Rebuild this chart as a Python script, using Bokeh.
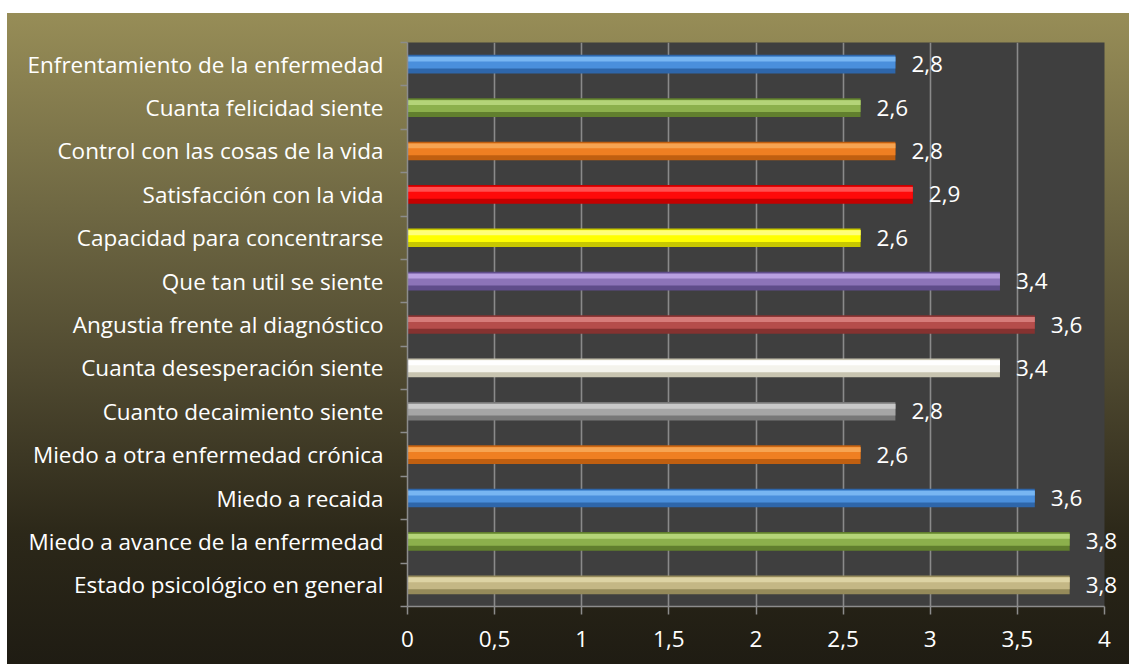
from bokeh.plotting import figure
from bokeh.models import Range1d, LinearAxis, FixedTicker, ColumnDataSource
from bokeh.transform import dodge
from bokeh.core.properties import value
from bokeh.embed import file_html
from bokeh.resources import INLINE

# ---- data (top to bottom as in the chart) ----
categories = [
    "Enfrentamiento de la enfermedad",
    "Cuanta felicidad siente",
    "Control con las cosas de la vida",
    "Satisfacción con la vida",
    "Capacidad para concentrarse",
    "Que tan util se siente",
    "Angustia frente al diagnóstico",
    "Cuanta desesperación siente",
    "Cuanto decaimiento siente",
    "Miedo a otra enfermedad crónica",
    "Miedo a recaida",
    "Miedo a avance de la enfermedad",
    "Estado psicológico en general",
]
values = [2.8, 2.6, 2.8, 2.9, 2.6, 3.4, 3.6, 3.4, 2.8, 2.6, 3.6, 3.8, 3.8]
x_ticks = [0.0, 0.5, 1.0, 1.5, 2.0, 2.5, 3.0, 3.5, 4.0]
x_tick_labels = ["0", "0,5", "1", "1,5", "2", "2,5", "3", "3,5", "4"]

# ---- styles ----
mid_colors = ["#4a8fdc", "#8cb04c", "#ef7f22", "#ff0a0a", "#ffff00", "#8c74b8", "#b54d4b",
              "#f4f3ec", "#a6a6a6", "#ef7f22", "#4a8fdc", "#8cb04c", "#c4b785"]
light_colors = ["#78b6f2", "#b4d478", "#f6a452", "#ff5050", "#ffff78", "#b8a0e0", "#d67c7a",
                "#ffffff", "#c8c8c8", "#f6a452", "#78b6f2", "#b4d478", "#ddd3a4"]
dark_colors = ["#2e66aa", "#617f2e", "#c05f10", "#c40000", "#c8c800", "#5f4d8a", "#853230",
               "#c8c4b0", "#787878", "#c05f10", "#2e66aa", "#617f2e", "#958a5a"]

FONT = "Open Sans"
FS = "22.5px"

n = len(categories)
# category slot centres on a numeric axis (first category at the top)
ypos = [n - 1 - i + 0.5 for i in range(n)]

src = ColumnDataSource(dict(
    y=ypos, val=values,
    lab=[("%g" % v).replace(".", ",") for v in values],
    mid=mid_colors, light=light_colors, dark=dark_colors,
))

p = figure(width=1122, height=651, y_range=Range1d(0, n), x_range=Range1d(0, 4),
           output_backend="svg", toolbar_location=None, y_axis_location=None,
           min_border_left=400, min_border_right=25, min_border_top=29, min_border_bottom=58)
p.styles = {"margin-top": "13px", "margin-left": "7px",
            "background": "linear-gradient(to bottom, #978d57 0%, #6f6843 30%, #4f4930 55%, #2c2819 80%, #1f1c13 100%)"}
p.border_fill_color = None
p.background_fill_color = "#3f3f3f"
p.outline_line_color = None

# grid
p.ygrid.grid_line_color = None
p.xgrid.ticker = FixedTicker(ticks=x_ticks)
p.xgrid.grid_line_color = "#8a8a8a"
p.xgrid.grid_line_width = 1.6

# x axis
xa = p.xaxis[0]
xa.ticker = FixedTicker(ticks=x_ticks)
xa.major_label_overrides = {t: l for t, l in zip(x_ticks, x_tick_labels)}
xa.axis_line_color = "#8c8c8c"
xa.axis_line_width = 1.5
xa.major_tick_line_color = "#8c8c8c"
xa.major_tick_line_width = 1.5
xa.major_tick_out = 8
xa.major_tick_in = 0
xa.minor_tick_line_color = None
xa.major_label_text_color = "white"
xa.major_label_text_font = FONT
xa.major_label_text_font_size = FS
xa.major_label_standoff = 16

# y axis: category labels at slot centres, tick marks (minor) at slot boundaries
ya = LinearAxis(ticker=FixedTicker(ticks=ypos, minor_ticks=list(range(n + 1))),
                major_label_overrides={y: c for y, c in zip(ypos, categories)},
                axis_line_color="#8c8c8c", axis_line_width=1.5,
                major_tick_line_color=None, major_tick_out=0, major_tick_in=0,
                minor_tick_line_color="#8c8c8c", minor_tick_line_width=1.5,
                minor_tick_out=7, minor_tick_in=0,
                major_label_text_color="white", major_label_text_font=FONT,
                major_label_text_font_size=FS, major_label_standoff=17)
p.add_layout(ya, "left")

# bars (layered for bevelled look)
p.hbar(y="y", right="val", left=0, height=0.43, source=src,
       fill_color="dark", line_color=None)
p.hbar(y=dodge("y", 0.04), right="val", left=0, height=0.28, source=src,
       fill_color="mid", line_color=None)
p.hbar(y=dodge("y", 0.115), right="val", left=0, height=0.11, source=src,
       fill_color="light", line_color=None)

# value labels
p.text(x="val", y="y", text="lab", source=src, x_offset=16, text_baseline="middle",
       text_align="left", text_color="white", text_font=value(FONT), text_font_size=FS,
       level="overlay")

open("out.html", "w").write(file_html(p, INLINE))
